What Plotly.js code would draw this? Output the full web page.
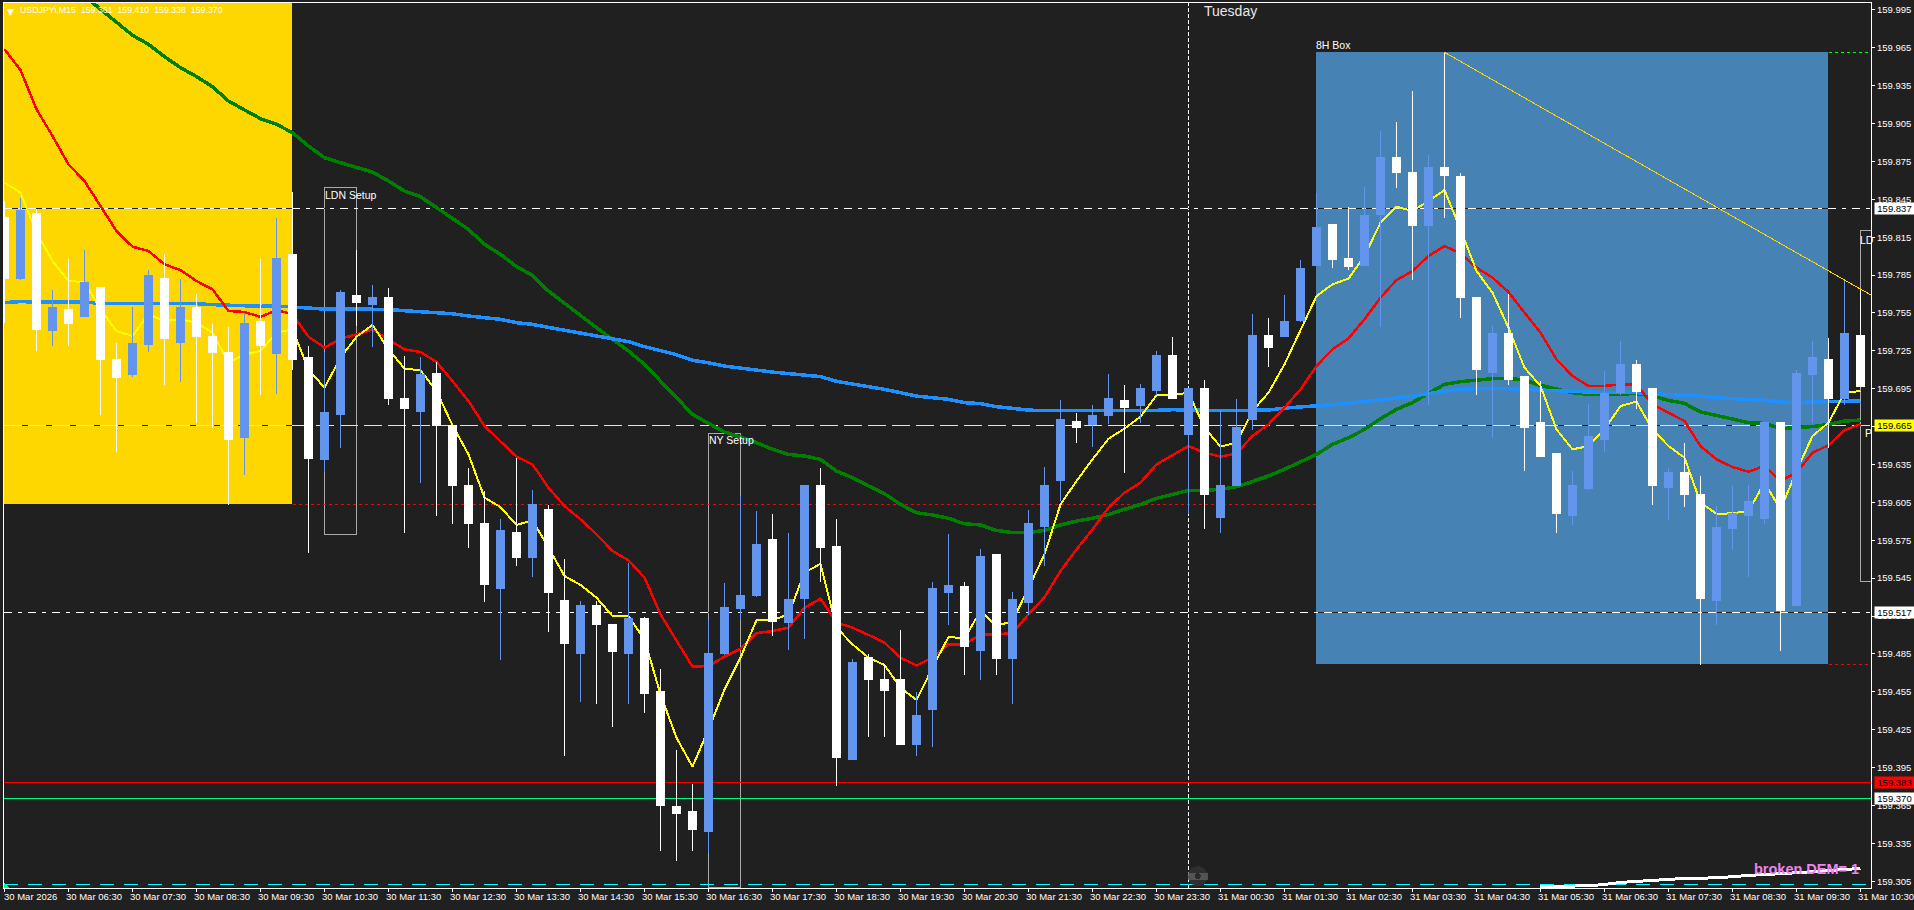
<!DOCTYPE html>
<html><head><meta charset="utf-8">
<script src="https://cdn.plot.ly/plotly-3.0.1.min.js"></script>
<style>
html,body{margin:0;padding:0;background:#202020;overflow:hidden}
#c{width:1914px;height:910px}
#c path{shape-rendering:crispEdges !important}
</style></head><body><div id="c"></div>
<script>
const opens=[159.831,159.782,159.834,159.741,159.758,159.752,159.775,159.718,159.706,159.730,
159.782,159.732,159.759,159.736,159.724,159.656,159.748,159.723,159.801,159.720,
159.639,159.675,159.769,159.762,159.767,159.687,159.677,159.707,159.666,159.618,
159.588,159.537,159.581,159.561,159.599,159.527,159.485,159.523,159.508,159.485,
159.513,159.455,159.364,159.360,159.344,159.485,159.521,159.531,159.576,159.510,
159.529,159.618,159.570,159.401,159.482,159.465,159.465,159.413,159.441,159.534,
159.538,159.488,159.564,159.481,159.526,159.586,159.622,159.669,159.667,159.674,
159.686,159.682,159.694,159.721,159.659,159.695,159.593,159.618,159.671,159.737,
159.736,159.749,159.793,159.825,159.798,159.793,159.833,159.878,159.866,159.824,
159.870,159.863,159.767,159.708,159.739,159.705,159.668,159.644,159.595,159.616,
159.655,159.692,159.714,159.695,159.617,159.629,159.611,159.527,159.584,159.595,
159.592,159.668,159.523,159.706,159.718,159.687,159.737];
const closes=[159.782,159.836,159.742,159.759,159.747,159.779,159.718,159.704,159.731,159.785,
159.735,159.759,159.736,159.724,159.655,159.747,159.729,159.798,159.718,159.640,
159.676,159.771,159.763,159.767,159.687,159.679,159.706,159.666,159.618,159.588,
159.540,159.583,159.561,159.603,159.534,159.493,159.523,159.508,159.487,159.513,
159.454,159.365,159.359,159.346,159.485,159.522,159.531,159.572,159.511,159.528,
159.618,159.569,159.403,159.478,159.465,159.456,159.413,159.436,159.537,159.539,
159.491,159.562,159.481,159.528,159.588,159.618,159.671,159.664,159.674,159.687,
159.680,159.695,159.721,159.687,159.695,159.611,159.618,159.664,159.737,159.728,
159.748,159.790,159.823,159.797,159.792,159.832,159.878,159.866,159.824,159.870,
159.864,159.767,159.710,159.739,159.702,159.664,159.641,159.596,159.618,159.657,
159.691,159.714,159.693,159.618,159.629,159.611,159.529,159.585,159.596,159.606,
159.668,159.519,159.707,159.720,159.687,159.739,159.697];
const highs=[159.844,159.846,159.837,159.773,159.798,159.805,159.775,159.731,159.760,159.789,
159.802,159.782,159.770,159.746,159.744,159.755,159.798,159.830,159.851,159.729,
159.724,159.773,159.805,159.777,159.775,159.721,159.720,159.716,159.666,159.632,
159.614,159.592,159.640,159.615,159.603,159.560,159.527,159.527,159.508,159.557,
159.514,159.473,159.409,159.382,159.512,159.541,159.610,159.598,159.596,159.581,
159.619,159.632,159.592,159.481,159.485,159.477,159.504,159.455,159.542,159.580,
159.542,159.568,159.564,159.534,159.599,159.633,159.686,159.676,159.682,159.707,
159.698,159.699,159.725,159.736,159.695,159.702,159.678,159.687,159.754,159.751,
159.769,159.797,159.850,159.825,159.839,159.855,159.899,159.906,159.931,159.880,
159.961,159.866,159.767,159.745,159.770,159.705,159.701,159.644,159.630,159.683,
159.709,159.733,159.718,159.695,159.632,159.652,159.626,159.602,159.618,159.619,
159.668,159.668,159.710,159.733,159.735,159.780,159.774];
const lows=[159.747,159.781,159.725,159.729,159.729,159.752,159.674,159.645,159.704,159.724,
159.698,159.700,159.668,159.664,159.603,159.627,159.690,159.691,159.710,159.565,
159.629,159.648,159.745,159.728,159.682,159.581,159.620,159.594,159.588,159.569,
159.526,159.480,159.555,159.546,159.502,159.404,159.447,159.445,159.427,159.445,
159.438,159.329,159.321,159.329,159.327,159.484,159.512,159.530,159.499,159.488,
159.497,159.542,159.380,159.401,159.419,159.419,159.413,159.404,159.411,159.508,
159.468,159.464,159.468,159.445,159.516,159.555,159.606,159.652,159.649,159.667,
159.628,159.668,159.690,159.687,159.596,159.584,159.581,159.618,159.662,159.712,
159.736,159.748,159.793,159.791,159.789,159.793,159.744,159.854,159.781,159.682,
159.830,159.751,159.690,159.656,159.698,159.630,159.641,159.581,159.587,159.615,
159.645,159.690,159.679,159.603,159.591,159.601,159.476,159.508,159.567,159.546,
159.588,159.487,159.523,159.668,159.648,159.682,159.696];
const maYellow=[159.8582,159.8503,159.8186,159.7962,159.7803,159.7795,159.7579,159.7407,159.7368,159.7539,
159.7486,159.7500,159.7473,159.7394,159.7156,159.7222,159.7249,159.7394,159.7420,159.7104,
159.6958,159.7196,159.7362,159.7455,159.7262,159.7109,159.7096,159.6932,159.6660,159.6430,
159.6087,159.6013,159.5871,159.5908,159.5691,159.5467,159.5396,159.5295,159.5150,159.5150,
159.4963,159.4530,159.4186,159.3957,159.4252,159.4569,159.4820,159.5118,159.5118,159.5163,
159.5493,159.5564,159.5058,159.4926,159.4820,159.4762,159.4582,159.4485,159.4741,159.4984,
159.4973,159.5190,159.5071,159.5110,159.5374,159.5638,159.6034,159.6219,159.6391,159.6554,
159.6634,159.6729,159.6898,159.6900,159.6919,159.6642,159.6491,159.6523,159.6774,159.6919,
159.7143,159.7420,159.7684,159.7777,159.7822,159.8001,159.8265,159.8392,159.8358,159.8437,
159.8524,159.8212,159.7882,159.7711,159.7434,159.7117,159.6972,159.6628,159.6470,159.6496,
159.6628,159.6813,159.6848,159.6628,159.6496,159.6404,159.6048,159.5960,159.5963,159.5982,
159.6206,159.5995,159.6298,159.6576,159.6681,159.6919,159.6932];
const maRed=[159.9638,159.9474,159.9163,159.8952,159.8727,159.8595,159.8397,159.8199,159.8075,159.8041,
159.7935,159.7890,159.7803,159.7737,159.7566,159.7558,159.7518,159.7574,159.7539,159.7362,
159.7275,159.7346,159.7381,159.7420,159.7341,159.7262,159.7241,159.7162,159.7011,159.6853,
159.6655,159.6536,159.6412,159.6351,159.6166,159.6021,159.5916,159.5797,159.5665,159.5591,
159.5454,159.5163,159.4952,159.4749,159.4754,159.4828,159.4891,159.5015,159.5031,159.5058,
159.5216,159.5287,159.5097,159.5058,159.5000,159.4939,159.4820,159.4759,159.4820,159.4926,
159.4926,159.5005,159.5005,159.5015,159.5163,159.5300,159.5506,159.5678,159.5836,159.6008,
159.6127,159.6206,159.6351,159.6422,159.6496,159.6444,159.6412,159.6438,159.6576,159.6668,
159.6800,159.6945,159.7130,159.7262,159.7349,159.7500,159.7671,159.7811,159.7882,159.8001,
159.8080,159.8022,159.7909,159.7830,159.7716,159.7552,159.7394,159.7183,159.7051,159.6972,
159.6972,159.6985,159.6985,159.6826,159.6760,159.6694,159.6496,159.6391,159.6330,159.6293,
159.6338,159.6219,159.6285,159.6444,159.6502,159.6623,159.6668];
const maGreen=[160.0641,160.0522,160.0404,160.0285,160.0166,160.0060,159.9955,159.9849,159.9749,159.9678,
159.9580,159.9493,159.9422,159.9342,159.9229,159.9158,159.9089,159.9044,159.8978,159.8872,
159.8780,159.8740,159.8701,159.8666,159.8595,159.8516,159.8471,159.8384,159.8305,159.8212,
159.8094,159.8014,159.7917,159.7848,159.7724,159.7626,159.7531,159.7434,159.7341,159.7249,
159.7143,159.7011,159.6879,159.6747,159.6676,159.6607,159.6568,159.6523,159.6470,159.6430,
159.6417,159.6391,159.6298,159.6246,159.6180,159.6119,159.6034,159.5968,159.5950,159.5924,
159.5881,159.5871,159.5828,159.5810,159.5810,159.5828,159.5871,159.5902,159.5924,159.5955,
159.5995,159.6034,159.6082,159.6114,159.6145,159.6145,159.6153,159.6174,159.6214,159.6259,
159.6312,159.6372,159.6430,159.6510,159.6562,159.6628,159.6713,159.6787,159.6840,159.6914,
159.6985,159.7006,159.7016,159.7030,159.7032,159.7019,159.6977,159.6945,159.6919,159.6906,
159.6908,159.6911,159.6911,159.6892,159.6858,159.6834,159.6766,159.6739,159.6713,159.6681,
159.6676,159.6634,159.6642,159.6650,159.6668,159.6694,159.6702];
const maBlue=[159.7632,159.7640,159.7637,159.7637,159.7632,159.7637,159.7626,159.7624,159.7624,159.7624,
159.7624,159.7624,159.7624,159.7616,159.7610,159.7610,159.7603,159.7605,159.7600,159.7589,
159.7581,159.7581,159.7581,159.7581,159.7579,159.7568,159.7560,159.7552,159.7544,159.7526,
159.7513,159.7500,159.7473,159.7460,159.7436,159.7412,159.7394,159.7368,159.7346,159.7323,
159.7283,159.7249,159.7220,159.7175,159.7156,159.7130,159.7117,159.7098,159.7082,159.7069,
159.7059,159.7046,159.7009,159.6990,159.6966,159.6945,159.6919,159.6892,159.6879,159.6866,
159.6840,159.6832,159.6808,159.6795,159.6781,159.6776,159.6776,159.6776,159.6776,159.6776,
159.6776,159.6779,159.6779,159.6784,159.6784,159.6779,159.6776,159.6776,159.6776,159.6781,
159.6797,159.6808,159.6816,159.6824,159.6834,159.6848,159.6858,159.6879,159.6892,159.6911,
159.6932,159.6945,159.6950,159.6953,159.6950,159.6945,159.6937,159.6932,159.6924,159.6919,
159.6919,159.6919,159.6919,159.6911,159.6906,159.6898,159.6892,159.6879,159.6874,159.6866,
159.6858,159.6845,159.6840,159.6845,159.6848,159.6853,159.6853];
const demBars=[96,97,98,99,100,101,102,103,104,105,106,107,108,109,110,111,112,113,114,115,116];
const demLine=[159.3006,159.3009,159.3011,159.3014,159.3024,159.3040,159.3048,159.3056,159.3064,159.3072,159.3072,159.3077,159.3085,159.3096,159.3101,159.3109,159.3117,159.3125,159.3135,159.3143,159.3151];
const xTickBars=[0,4,8,12,16,20,24,28,32,36,40,44,48,52,56,60,64,68,72,76,80,84,88,92,96,100,104,108,112,116];
const xTickLabels=["30 Mar 2026","30 Mar 06:30","30 Mar 07:30","30 Mar 08:30","30 Mar 09:30","30 Mar 10:30","30 Mar 11:30","30 Mar 12:30","30 Mar 13:30","30 Mar 14:30","30 Mar 15:30","30 Mar 16:30","30 Mar 17:30","30 Mar 18:30","30 Mar 19:30","30 Mar 20:30","30 Mar 21:30","30 Mar 22:30","30 Mar 23:30","31 Mar 00:30","31 Mar 01:30","31 Mar 02:30","31 Mar 03:30","31 Mar 04:30","31 Mar 05:30","31 Mar 06:30","31 Mar 07:30","31 Mar 08:30","31 Mar 09:30","31 Mar 10:30"];
const yTicks=[159.305,159.335,159.365,159.395,159.425,159.455,159.485,159.515,159.545,159.575,159.605,159.635,159.665,159.695,159.725,159.755,159.785,159.815,159.845,159.875,159.905,159.935,159.965,159.995];
const yTickLabels=["159.305","159.335","159.365","159.395","159.425","159.455","159.485","159.515","159.545","159.575","159.605","159.635","159.665","159.695","159.725","159.755","159.785","159.815","159.845","159.875","159.905","159.935","159.965","159.995"];

const bars=opens.map((_,i)=>i);
const XR=[-0.03125,116.656], YR=[159.2996,160.0005];
const BG='#202020', BODY='#6495ED';
const hline=(y,color,dash,x0=XR[0],x1=XR[1],w=1)=>({type:'line',layer:'below',xref:'x',yref:'y',x0,x1,y0:y,y1:y,line:{color,width:w,dash}});
const rect=(x0,x1,y0,y1,fill,lc)=>({type:'rect',layer:'below',xref:'x',yref:'y',x0,x1,y0,y1,fillcolor:fill||'rgba(0,0,0,0)',line:{color:lc||'rgba(0,0,0,0)',width:lc?1:0}});
const DD='8px,6px,4px,6px', LD='18px,6px';
const shapes=[
 rect(XR[0],17.95,159.6034,YR[1],'#FFD700'),
 rect(81.95,113.95,159.4767,159.9614,'#4682B4'),
 rect(20,22,159.5794,159.8542,null,'#A9A9A9'),
 rect(44,46,159.2998,159.6594,null,'#A9A9A9'),
 rect(116,117.5,159.5421,159.8204,null,'#A9A9A9'),
 hline(159.6034,'#FF0000','3px,3px',18,82),
 hline(159.9614,'#00FF00','3px,3px',114,XR[1]),
 hline(159.4767,'#FF0000','3px,3px',114,XR[1]),
 hline(159.8375,BG,'solid'),hline(159.8375,'#FFFFFF',DD),
 hline(159.5175,BG,'solid'),hline(159.5175,'#FFFFFF',DD),
 hline(159.6655,BG,'solid'),hline(159.6655,'#FFFF00',LD),
 hline(159.383,'#FF0000','solid'),
 hline(159.3703,'#00FF7F','solid'),
 hline(159.3022,'#00FFFF','14px,10px'),
 {type:'line',layer:'below',xref:'x',yref:'paper',x0:74,x1:74,y0:0,y1:1,line:{color:'#FFFFFF',width:1,dash:'4px,2px'}},
 {type:'line',layer:'above',xref:'x',yref:'y',x0:90,x1:XR[1],y0:159.9614,y1:159.7692,line:{color:'#FFD700',width:1}},
 {type:'circle',layer:'above',xref:'x',yref:'y',xsizemode:'pixel',ysizemode:'pixel',xanchor:74.57,yanchor:159.3090,x0:-10,x1:10,y0:-10,y1:10,fillcolor:'rgba(60,60,60,0.55)',line:{width:0}},
 {type:'rect',layer:'above',xref:'x',yref:'y',xsizemode:'pixel',ysizemode:'pixel',xanchor:74.57,yanchor:159.3090,x0:-10,x1:10,y0:-3.5,y1:3.5,fillcolor:'rgba(110,110,110,0.6)',line:{width:0}},
 {type:'circle',layer:'above',xref:'x',yref:'y',xsizemode:'pixel',ysizemode:'pixel',xanchor:74.57,yanchor:159.3090,x0:-3,x1:3,y0:-3,y1:3,fillcolor:'#2a2a2a',line:{width:0}},
 {type:'path',layer:'above',xref:'x',yref:'y',xsizemode:'pixel',ysizemode:'pixel',xanchor:XR[0],yanchor:YR[0],path:'M0,0 L5,0 L0,5 Z',fillcolor:'#00FF7F',line:{width:0}}
];
const FF='"Liberation Sans",Arial,sans-serif';
const note=(x,y,text,size,color,extra)=>Object.assign({xref:'x',yref:'y',x,y,text,showarrow:false,xanchor:'left',yanchor:'middle',borderpad:0,font:{family:FF,size,color}},extra||{});
const tag=(y,text,bg,fc)=>({xref:'paper',yref:'y',x:1,xshift:3,y,text,showarrow:false,xanchor:'left',yanchor:'middle',bgcolor:bg,width:39,height:11,borderpad:0,align:'center',font:{family:FF,size:9.5,color:fc}});
const xLabels=xTickBars.map((b,i)=>({xref:'x',yref:'paper',x:b,y:0,xshift:i===0?-2:-4,yshift:-8.7,xanchor:'left',yanchor:'middle',showarrow:false,text:xTickLabels[i],borderpad:0,font:{family:FF,size:9.5,color:'#FFFFFF'}}));
const annotations=[
 {xref:'paper',yref:'paper',x:0,xshift:2,y:1,yshift:-3,xanchor:'left',yanchor:'top',showarrow:false,text:'▼',borderpad:0,font:{family:'"DejaVu Sans"',size:9,color:'#FFFFFF'}},
 {xref:'paper',yref:'paper',x:0,xshift:15,y:1,yshift:-1,xanchor:'left',yanchor:'top',showarrow:false,text:'USDJPYi,M15&nbsp;&nbsp;159.361&nbsp;&nbsp;159.410&nbsp;&nbsp;159.338&nbsp;&nbsp;159.370',borderpad:0,font:{family:FF,size:8.8,color:'#FFFFFF'}},
 note(74.9,159.9942,'Tuesday',14,'#E8E8E8'),
 note(19.94,159.8486,'LDN Setup',10.5,'#FFFFFF'),
 note(43.94,159.6542,'NY Setup',10.5,'#FFFFFF'),
 note(81.9,159.9670,'8H Box',10.5,'#FFFFFF'),
 note(115.92,159.8130,'LD',10.5,'#FFFFFF'),
 note(116.2,159.6602,'P',10.5,'#FFFFFF'),
 note(109.25,159.3150,'broken DEM= 1',14.5,'#EE82EE',{font:{family:FF,size:14.5,color:'#EE82EE',weight:'bold'}}),
 tag(159.8375,'159.837','#FFFFFF','#000000'),
 tag(159.6655,'159.665','#FFFF00','#000000'),
 tag(159.5175,'159.517','#FFFFFF','#000000'),
 tag(159.383,'159.383','#FF0000','#000000'),
 tag(159.3703,'159.370','#FFFFFF','#000000')
].concat(xLabels);
const ma=(y,color,width)=>({type:'scatter',mode:'lines',x:bars,y,line:{color,width},hoverinfo:'skip',showlegend:false,xaxis:'x',yaxis:'y'});
const data=[
 ma(maGreen,'#008000',3.5),
 ma(maBlue,'#1E90FF',3.5),
 ma(maRed,'#FF0000',2.5),
 ma(maYellow,'#FFFF00',2),
 {type:'scatter',mode:'lines',x:demBars,y:demLine,line:{color:'#FFFFFF',width:3},hoverinfo:'skip',showlegend:false,xaxis:'x',yaxis:'y'},
 {type:'candlestick',x:bars,open:opens,high:highs,low:lows,close:closes,xaxis:'x2',yaxis:'y2',whiskerwidth:0,showlegend:false,hoverinfo:'skip',
  increasing:{line:{color:BODY,width:1},fillcolor:BODY},decreasing:{line:{color:'#FFFFFF',width:1},fillcolor:'#FFFFFF'}}
];
const layout={
 width:1914,height:910,paper_bgcolor:BG,plot_bgcolor:BG,showlegend:false,
 margin:{l:4,r:43,t:3,b:22,pad:0},
 boxgap:0.36,
 xaxis:{range:XR,tickmode:'array',tickvals:xTickBars,showticklabels:false,showgrid:false,zeroline:false,showline:true,mirror:true,linecolor:'#FFFFFF',linewidth:1,
  ticks:'outside',ticklen:3,tickcolor:'#FFFFFF',tickwidth:1,automargin:false},
 yaxis:{range:YR,side:'right',tickmode:'array',tickvals:yTicks,ticktext:yTickLabels,showgrid:false,zeroline:false,showline:true,mirror:true,linecolor:'#FFFFFF',linewidth:1,
  ticks:'outside',ticklen:3,tickcolor:'#FFFFFF',tickwidth:1,automargin:false,
  tickfont:{family:FF,size:9.5,color:'#FFFFFF'}},
 xaxis2:{overlaying:'x',range:XR,visible:false,rangeslider:{visible:false},anchor:'y2'},
 yaxis2:{overlaying:'y',range:YR,visible:false,anchor:'x2'},
 shapes,annotations
};
Plotly.newPlot('c',data,layout,{staticPlot:true,displayModeBar:false});
</script></body></html>
